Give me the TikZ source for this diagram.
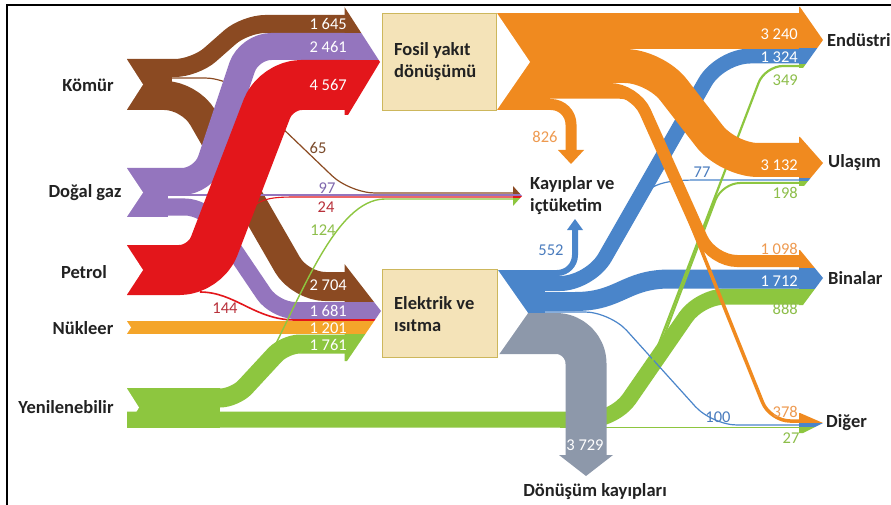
\documentclass[tikz,border=0pt]{standalone}
\usepackage{fontspec}
\setmainfont{Carlito}
\definecolor{cBrown}{HTML}{8B4A22}
\definecolor{cPurple}{HTML}{9475BE}
\definecolor{cRed}{HTML}{E3161B}
\definecolor{cOrange}{HTML}{F08A1F}
\definecolor{cNuk}{HTML}{F4A52A}
\definecolor{cGreen}{HTML}{8DC63F}
\definecolor{cBlue}{HTML}{4A85CA}
\definecolor{cGrey}{HTML}{8D98AA}
\definecolor{cBoxFill}{HTML}{F4E3B8}
\definecolor{cBoxLine}{HTML}{CDB75C}
\definecolor{tBrown}{HTML}{7A4A2A}
\definecolor{tPurple}{HTML}{8068AE}
\definecolor{tRed}{HTML}{B8303A}
\definecolor{tGreen}{HTML}{8DBE4A}
\definecolor{tOrange}{HTML}{EE9A50}
\definecolor{tBlue}{HTML}{4A7CBE}
\definecolor{tDark}{HTML}{222222}
\begin{document}
\begin{tikzpicture}[x=1pt,y=-1pt,
  band/.style={line width=#1, line cap=butt, line join=round},
  lbl/.style={font=\fontsize{18.5}{22}\selectfont\bfseries, text=tDark, inner sep=0pt},
  boxtxt/.style={font=\fontsize{18.5}{22}\selectfont\bfseries, text=tDark, inner sep=0pt, align=left},
  num/.style={font=\fontsize{16.5}{18}\selectfont, inner sep=0pt},
  boxst/.style={draw=cBoxLine, fill=cBoxFill, line width=1pt, inner sep=0pt}]
\useasboundingbox (0,0) rectangle (891,505);
\fill[white] (0,0) rectangle (891,505);
% frame
\draw[line width=1.6pt, black] (7,505) -- (7,5) -- (891,5);

% ---------- left side flows ----------
\draw[band=29, cBrown, rounded corners=25] (127,95.5) -- (190,95.5) -- (300,286.5) -- (345,286.5);
\draw[band=18, cBrown, rounded corners=20] (127,68) -- (195,68) -- (245,24) -- (345,24);
\draw[band=1.2, cBrown, rounded corners=25] (170,78) -- (230,78) -- (350,193) -- (514,193);
\draw[band=17, cPurple, rounded corners=20] (127,207) -- (205,207) -- (275,310.5) -- (345,310.5);
\draw[band=1.3, cPurple] (140,195) -- (514,195);
\draw[band=27, cPurple, rounded corners=22] (127,181.5) -- (204,181.5) -- (249,46.5) -- (345,46.5);
\draw[band=1.1, cRed] (245,215) .. controls (258,199) and (268,197) .. (295,197) -- (514,197);
\draw[band=1.6, cRed] (200,292) .. controls (235,292) and (255,320) .. (295,320) -- (345,320);
\draw[band=50, cRed, rounded corners=25] (127,270) -- (205,270) -- (276,85) -- (345,85);
\draw[band=13, cNuk] (127,327.5) -- (345,327.5);
\draw[band=19, cGreen, rounded corners=15] (127,398) -- (235,398) -- (285,344) -- (345,344);
\draw[band=1.4, cGreen] (265,365) .. controls (300,300) and (335,199) .. (385,199) -- (514,199);

% source tails
\fill[cBrown] (127,59) rectangle (172,110);
\fill[cPurple] (127,168) rectangle (168,217);
\fill[cRed] (127,245) rectangle (182,295);
\fill[cGreen] (127,388) rectangle (220,427.5);
\fill[white] (126,58) -- (143,84.5) -- (126,111) -- cycle;
\fill[white] (126,167) -- (143,192.5) -- (126,218) -- cycle;
\fill[white] (126,244) -- (143,270) -- (126,296) -- cycle;
\fill[white] (126,320) -- (131,327.5) -- (126,335) -- cycle;
\fill[white] (126,387) -- (139,407.5) -- (126,429) -- cycle;

% arrowhead into Fosil
\begin{scope}
\clip (344.5,7) -- (380,62) -- (348,115) -- (344.5,115) -- cycle;
\fill[cBrown] (340,0) rectangle (385,33);
\fill[cPurple] (340,33) rectangle (385,60);
\fill[cRed] (340,60) rectangle (385,120);
\end{scope}
% arrowhead into Elektrik
\begin{scope}
\clip (344.5,264) -- (381,311) -- (347,361) -- (344.5,361) -- cycle;
\fill[cBrown] (340,255) rectangle (385,301.5);
\fill[cPurple] (340,301.5) rectangle (385,319.2);
\fill[cRed] (340,319.2) rectangle (385,320.9);
\fill[cNuk] (340,320.9) rectangle (385,334.2);
\fill[cGreen] (340,334.2) rectangle (385,365);
\end{scope}

% ---------- right side flows ----------
\draw[band=16, cGreen, rounded corners=25] (127,419.5) -- (615,419.5) -- (700,296.5) -- (800,296.5);
\draw[band=0.9, cGreen] (560,427.8) -- (800,427.8);
\fill[cBlue] (497,270) rectangle (545,313);
\draw[band=19, cBlue] (497,301.5) -- (575,301.5) .. controls (620,301.5) and (625,279) .. (670,279) -- (800,279);
\draw[band=15, cBlue, rounded corners=30] (497,283.5) -- (590,283.5) -- (720,56) -- (800,56);
\draw[band=6, cBlue, rounded corners=18] (497,273) -- (575,273) -- (575,229);
\fill[cBlue] (567,230) -- (583,230) -- (575,219) -- cycle;
\draw[band=1.2, cBlue] (638,200) .. controls (652,183) and (665,180) .. (700,180) -- (800,180);
\draw[band=1.2, cBlue, rounded corners=25] (497,312) -- (610,312) -- (712,425) -- (800,425);
\fill[cGrey] (497,313) rectangle (545,354);
\draw[band=41, cGrey, rounded corners=30] (497,333.5) -- (586,333.5) -- (586,456);
\fill[cGrey] (559,455) -- (613,455) -- (586,476) -- cycle;
\fill[white] (497.5,269.5) -- (528,313) -- (497.5,356.5) -- cycle;

\draw[band=2.2, cGreen, rounded corners=18] (645,380) -- (765,66) -- (800,66);
\draw[band=2, cGreen, rounded corners=18] (655,360) -- (722,183) -- (800,183);

\fill[cOrange] (497,13) rectangle (550,110);
\draw[band=36, cOrange] (497,31) -- (800,31);
\draw[band=34, cOrange, rounded corners=30] (497,66) -- (655,66) -- (728,160) -- (800,160);
\draw[band=12, cOrange, rounded corners=25] (497,89) -- (635,89) -- (712,261) -- (800,261);
\draw[band=3.5, cOrange, rounded corners=20] (497,97) -- (640,97) -- (770,421) -- (800,421);
\draw[band=11, cOrange, rounded corners=20] (497,104.5) -- (571,104.5) -- (571,151);
\fill[cOrange] (558,150) -- (584,150) -- (571,164) -- cycle;
\fill[white] (496.5,12.5) -- (530,62) -- (496.5,110.5) -- cycle;

% destination arrowheads
\begin{scope}
\clip (800,7) -- (823,40) -- (803,68) -- (799,68) -- (799,7) -- cycle;
\fill[cOrange] (798,0) rectangle (830,48.5);
\fill[cBlue] (798,48.5) rectangle (830,64.5);
\fill[cGreen] (798,64.5) rectangle (830,75);
\end{scope}
\begin{scope}
\clip (800,137) -- (823,163) -- (804,186) -- (799,186) -- (799,137) -- cycle;
\fill[cOrange] (798,130) rectangle (830,178);
\fill[cBlue] (798,178) rectangle (830,181.5);
\fill[cGreen] (798,181.5) rectangle (830,190);
\end{scope}
\begin{scope}
\clip (800,250) -- (823,278) -- (803,305) -- (799,305) -- (799,250) -- cycle;
\fill[cOrange] (798,245) rectangle (830,268);
\fill[cBlue] (798,268) rectangle (830,288.5);
\fill[cGreen] (798,288.5) rectangle (830,310);
\end{scope}
\begin{scope}
\clip (800,413) -- (823,423) -- (803,433) -- (799,433) -- (799,413) -- cycle;
\fill[cOrange] (798,405) rectangle (830,423.3);
\fill[cBlue] (798,423.3) rectangle (830,426.7);
\fill[cGreen] (798,426.7) rectangle (830,440);
\end{scope}
\begin{scope}
\clip (513,186) -- (522,196) -- (513,206) -- cycle;
\fill[cBrown] (510,180) rectangle (525,194);
\fill[cPurple] (510,194) rectangle (525,196);
\fill[cRed] (510,196) rectangle (525,198);
\fill[cGreen] (510,198) rectangle (525,210);
\end{scope}

% ---------- boxes ----------
\node[boxst, minimum width=114pt, minimum height=97pt, anchor=north west] (fosil) at (382,13) {};
\node[boxst, minimum width=115pt, minimum height=88pt, anchor=north west] (elektrik) at (382,269) {};
\node[boxtxt, anchor=west] (fosiltxt) at (394,62) {Fosil yakıt\\dönüşümü};
\node[boxtxt, anchor=west] (elektriktxt) at (394,314) {Elektrik ve\\ısıtma};

% ---------- labels ----------
\node[lbl] (komur) at (88,85) {Kömür};
\node[lbl] (dogalgaz) at (85,193) {Doğal gaz};
\node[lbl] (petrol) at (84,272) {Petrol};
\node[lbl] (nukleer) at (83,328) {Nükleer};
\node[lbl] (yenilenebilir) at (66,407) {Yenilenebilir};
\node[boxtxt, anchor=west] (kayiplar) at (530,196) {Kayıplar ve\\içtüketim};
\node[lbl] (donusum) at (595,492) {Dönüşüm kayıpları};
\node[lbl, anchor=west] (endustri) at (827,40) {Endüstri};
\node[lbl, anchor=west] (ulasim) at (828,163) {Ulaşım};
\node[lbl, anchor=west] (binalar) at (828,278) {Binalar};
\node[lbl, anchor=west] (diger) at (826,423) {Diğer};

% numbers
\node[num, text=white, anchor=east] (n1645) at (347,24) {1 645};
\node[num, text=white, anchor=east] (n2461) at (347,47) {2 461};
\node[num, text=white, anchor=east] (n4567) at (347,85) {4 567};
\node[num, text=white, anchor=east] (n2704) at (347,285) {2 704};
\node[num, text=white, anchor=east] (n1681) at (347,311) {1 681};
\node[num, text=white, anchor=east] (n1201) at (347,328) {1 201};
\node[num, text=white, anchor=east] (n1761) at (347,345) {1 761};
\node[num, text=tBrown] (n65) at (318,148) {65};
\node[num, text=tPurple] (n97) at (327,188) {97};
\node[num, text=tRed] (n24) at (326,207) {24};
\node[num, text=tGreen] (n124) at (323,230) {124};
\node[num, text=tRed] (n144) at (225,308) {144};
\node[num, text=tOrange] (n826) at (545,137) {826};
\node[num, text=tBlue] (n552) at (551,250) {552};
\node[num, text=white, anchor=east] (n3240) at (798,34) {3 240};
\node[num, text=white, anchor=east] (n1324) at (798,57) {1 324};
\node[num, text=tGreen, anchor=east] (n349) at (798,80) {349};
\node[num, text=white, anchor=east] (n3132) at (798,165) {3 132};
\node[num, text=tBlue] (n77) at (702,172) {77};
\node[num, text=tGreen, anchor=east] (n198) at (798,193) {198};
\node[num, text=tOrange, anchor=east] (n1098) at (798,249) {1 098};
\node[num, text=white, anchor=east] (n1712) at (798,281) {1 712};
\node[num, text=tGreen, anchor=east] (n888) at (798,309) {888};
\node[num, text=tOrange, anchor=east] (n378) at (798,412) {378};
\node[num, text=tBlue] (n100) at (718,417) {100};
\node[num, text=tGreen] (n27) at (791,438) {27};
\node[num, text=white] (n3729) at (585,445) {3 729};
\end{tikzpicture}
\end{document}
